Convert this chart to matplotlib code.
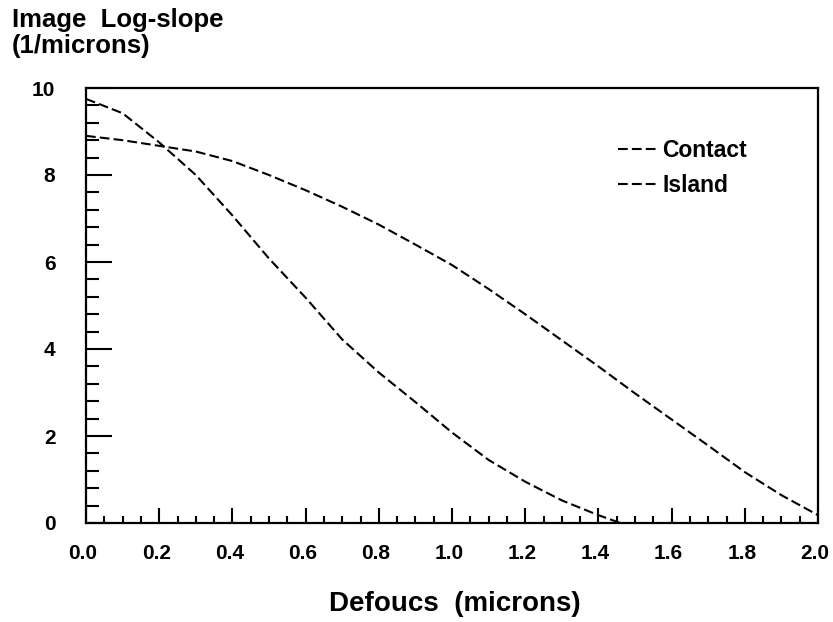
import matplotlib
matplotlib.use("Agg")
import matplotlib.pyplot as plt
import matplotlib.transforms as mtransforms
from matplotlib.ticker import MultipleLocator, FormatStrFormatter

# Data
defocus = [0.0, 0.1, 0.2, 0.3, 0.4, 0.5, 0.6, 0.7, 0.8, 0.9, 1.0,
           1.1, 1.2, 1.3, 1.4, 1.5, 1.6, 1.7, 1.8, 1.9, 2.0]
contact = [9.75, 9.42, 8.75, 8.0, 7.07, 6.08, 5.18, 4.22, 3.46, 2.78, 2.08,
           1.45, 0.95, 0.52, 0.18, -0.12]
island = [8.9, 8.8, 8.67, 8.54, 8.32, 8.0, 7.65, 7.27, 6.86, 6.4, 5.93,
          5.38, 4.8, 4.2, 3.6, 2.98, 2.38, 1.78, 1.17, 0.64, 0.18]
series_labels = ["Contact", "Island"]

plt.rcParams['font.family'] = ['Liberation Sans', 'DejaVu Sans']
plt.rcParams['font.weight'] = 'bold'
plt.rcParams['lines.scale_dashes'] = False

fig = plt.figure(figsize=(8.33, 6.22), dpi=100)
ax = fig.add_axes([86/833, 1-523/622, (818-86)/833, (523-88)/622])

dash = (7, 3)
ax.plot(defocus[:len(contact)], contact, color='black', lw=1.5, dashes=dash,
        label=series_labels[0])
ax.plot(defocus, island, color='black', lw=1.5, dashes=dash,
        label=series_labels[1])

ax.set_xlim(0, 2.0)
ax.set_ylim(0, 10)

ax.xaxis.set_major_locator(MultipleLocator(0.2))
ax.xaxis.set_minor_locator(MultipleLocator(0.05))
ax.yaxis.set_major_locator(MultipleLocator(2))
ax.yaxis.set_minor_locator(MultipleLocator(0.4))
ax.xaxis.set_major_formatter(FormatStrFormatter('%.1f'))
ax.yaxis.set_major_formatter(FormatStrFormatter('%d'))

ax.tick_params(axis='x', which='major', direction='in', length=10.5, width=1.5,
               pad=15, labelsize=15)
ax.tick_params(axis='x', which='minor', direction='in', length=5, width=1.5)
ax.tick_params(axis='y', which='major', direction='in', length=19, width=1.5,
               pad=22, labelsize=15)
ax.tick_params(axis='y', which='minor', direction='in', length=9.5, width=1.5)
shift = mtransforms.ScaledTranslation(-3/100, 0, fig.dpi_scale_trans)
for lab in ax.get_xticklabels():
    lab.set_fontweight('bold')
    lab.set_transform(lab.get_transform() + shift)
for lab in ax.get_yticklabels():
    lab.set_fontweight('bold')

for s in ax.spines.values():
    s.set_linewidth(1.6)

leg = ax.legend(loc='upper left', bbox_to_anchor=(597/833, 1-118/622),
                bbox_transform=fig.transFigure, frameon=False,
                handlelength=1.8, handletextpad=0.16, labelspacing=0.55,
                prop={'size': 16.5, 'weight': 'bold'})

fig.text(12/833, 1-8/622, "Image  Log-slope\n(1/microns)", ha='left', va='top',
         fontsize=18.5, fontweight='bold', linespacing=1.1)
fig.text(455/833, 1-604/622, "Defoucs  (microns)", ha='center', va='center',
         fontsize=20, fontweight='bold')

fig.savefig("out.png", dpi=100)
